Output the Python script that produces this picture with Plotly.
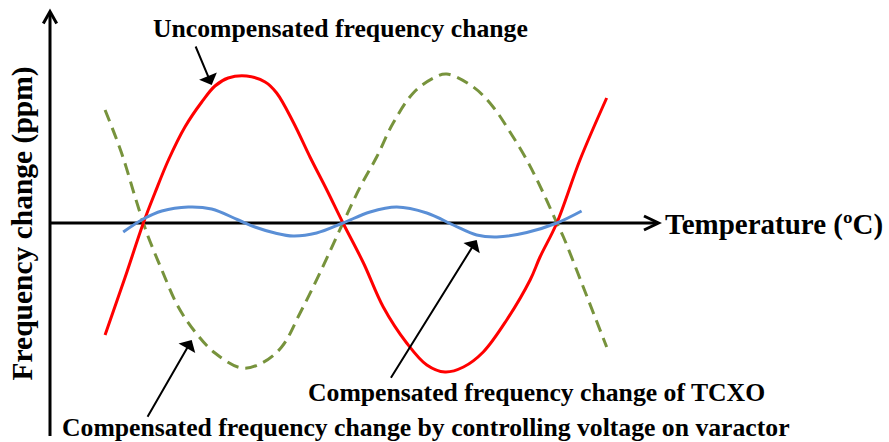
import plotly.graph_objects as go

# Uncompensated crystal frequency drift versus temperature
temp_uncomp = [-47.1, -41.1, -35.5, -32.0, -27.9, -22.9, -17.8, -13.8, -9.8, -4.2,
               1.4, 4.9, 9.9, 15.0, 20.1, 25.0, 31.2, 37.2, 44.3, 50.4,
               55.9, 61.5, 67.5, 74.6, 81.7, 84.7, 89.8, 96.8, 104.9]
ppm_uncomp = [-11.2, -5.5, 0.0, 3.0, 6.3, 9.6, 12.1, 13.7, 14.5, 14.7,
              14.1, 13.0, 10.1, 6.6, 3.3, 0.0, -4.0, -8.4, -12.0, -14.2,
              -14.9, -14.4, -12.9, -9.7, -5.7, -3.4, 0.0, 6.3, 12.5]

# Correction produced by driving the varactor voltage
temp_varactor = [-47.1, -42.1, -38.0, -35.5, -34.0, -29.9, -24.9, -19.8, -13.8, -5.7,
                 0.4, 6.4, 12.0, 18.0, 25.0, 30.2, 35.2, 40.2, 46.3, 52.4,
                 56.4, 64.5, 70.5, 75.6, 80.7, 85.7, 89.8, 91.8, 97.8, 104.9]
ppm_varactor = [11.3, 7.0, 2.6, 0.0, -1.4, -4.7, -8.4, -10.9, -13.0, -14.5,
                -14.0, -12.4, -9.0, -5.0, 0.0, 3.6, 6.6, 10.0, 13.0, 14.5,
                14.9, 13.6, 11.6, 9.1, 6.3, 3.0, 0.0, -1.4, -6.4, -12.4]

# Residual drift of the compensated oscillator (TCXO)
temp_tcxo = [-41.6, -35.5, -29.9, -21.9, -14.8, -6.7, -1.7, 4.4, 9.9, 17.0,
             25.0, 33.2, 41.3, 50.4, 58.4, 65.5, 71.6, 80.7, 89.8, 97.3]
ppm_tcxo = [-0.9, 0.4, 1.2, 1.6, 1.4, 0.3, -0.4, -1.0, -1.3, -1.0,
            0.0, 1.1, 1.6, 1.0, -0.2, -1.2, -1.4, -0.95, 0.0, 1.2]

W, H = 889, 442

# Canvas geometry: pixel position <-> data value
X0_PX, X0_T, PX_PER_C = 343.0, 25.0, 3.3
Y0_PX, PX_PER_PPM = 223.0, 10.0


def tx(px):
    return X0_T + (px - X0_PX) / PX_PER_C


def ty(py):
    return (Y0_PX - py) / PX_PER_PPM


SERIF = "Liberation Serif, Times New Roman, serif"

fig = go.Figure()
fig.add_trace(go.Scatter(x=temp_varactor, y=ppm_varactor, mode="lines",
                         line=dict(color="#77933C", width=3, dash="12px,7px", shape="spline"),
                         hoverinfo="skip"))
fig.add_trace(go.Scatter(x=temp_uncomp, y=ppm_uncomp, mode="lines",
                         line=dict(color="#FF0000", width=3, shape="spline"),
                         hoverinfo="skip"))
fig.add_trace(go.Scatter(x=temp_tcxo, y=ppm_tcxo, mode="lines",
                         line=dict(color="#5A8FD6", width=3, shape="spline"),
                         hoverinfo="skip"))

axis_line = dict(color="black", width=3)
shapes = [
    # vertical (frequency) axis with open arrowhead
    dict(type="line", x0=tx(50), x1=tx(50), y0=ty(436), y1=ty(12), line=axis_line, layer="below"),
    dict(type="path", path=f"M {tx(43.3)} {ty(23.5)} L {tx(50)} {ty(11.5)} L {tx(56.7)} {ty(23.5)}",
         line=axis_line, layer="below"),
    # horizontal (temperature) axis with open arrowhead
    dict(type="line", x0=tx(50), x1=tx(658), y0=ty(223), y1=ty(223), line=axis_line, layer="below"),
    dict(type="path", path=f"M {tx(644)} {ty(216)} L {tx(658.5)} {ty(223)} L {tx(644)} {ty(230)}",
         line=axis_line, layer="below"),
]

label_font = dict(family=SERIF, size=25.7, color="black")
annotations = [
    dict(x=tx(340), y=ty(28), text="<b>Uncompensated frequency change</b>", showarrow=False,
         xanchor="center", yanchor="middle", font=label_font),
    dict(x=tx(536.5), y=ty(392), text="<b>Compensated frequency change of TCXO</b>", showarrow=False,
         xanchor="center", yanchor="middle", font=label_font),
    dict(x=tx(426), y=ty(427.5), text="<b>Compensated frequency change by controlling voltage on varactor</b>",
         showarrow=False, xanchor="center", yanchor="middle", font=label_font),
    dict(x=tx(663), y=ty(224), text="<b>Temperature (ºC)</b>", showarrow=False,
         xanchor="left", yanchor="middle", font=dict(family=SERIF, size=29, color="black")),
    dict(x=tx(22), y=ty(223.5), text="<b>Frequency change (ppm)</b>", showarrow=False, textangle=-90,
         xanchor="center", yanchor="middle", font=dict(family=SERIF, size=29.5, color="black")),
]

# Pointer arrows from labels to curves: (tip, tail) in pixels
pointers = [((211.7, 85.0), (195.0, 45.0)),
            ((191.7, 340.0), (146.7, 418.3)),
            ((476.7, 240.0), (390.0, 379.3))]
for (hx, hy), (sx, sy) in pointers:
    annotations.append(dict(x=tx(hx), y=ty(hy), ax=tx(sx), ay=ty(sy), axref="x", ayref="y",
                            xref="x", yref="y", text="", showarrow=True, arrowhead=1,
                            arrowsize=1.6, arrowwidth=2, arrowcolor="black", standoff=0))

fig.update_layout(
    width=W, height=H,
    margin=dict(l=0, r=0, t=0, b=0),
    paper_bgcolor="white", plot_bgcolor="white",
    showlegend=False,
    xaxis=dict(range=[tx(0), tx(W)], visible=False, fixedrange=True),
    yaxis=dict(range=[ty(H), ty(0)], visible=False, fixedrange=True),
    shapes=shapes,
    annotations=annotations,
)

fig.write_html("out.html", config={"displayModeBar": False})
